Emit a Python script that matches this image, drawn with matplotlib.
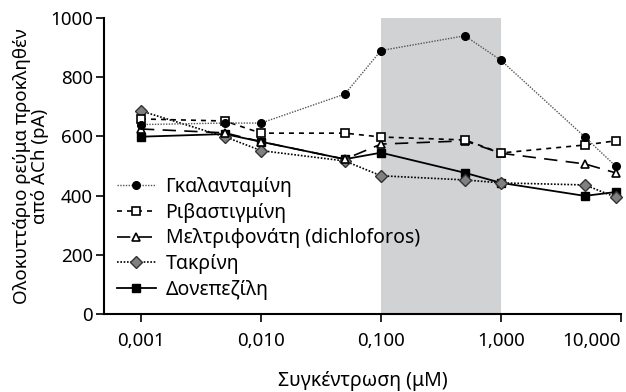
import matplotlib
matplotlib.use("Agg")
import matplotlib.pyplot as plt
from matplotlib.ticker import FixedLocator, NullLocator

plt.rcParams['font.family'] = ['Noto Sans', 'DejaVu Sans']

conc = [0.001, 0.005, 0.01, 0.05, 0.1, 0.5, 1, 5, 9]

galantamine = [640, 645, 645, 743, 890, 940, 857, 598, 500]
rivastigmine = [659, 652, 611, 611, 598, 588, 544, 571, 585]
metrifonate = [625, 612, 582, 523, 574, 585, 543, 507, 477]
tacrine = [686, 599, 552, 517, 467, 453, 443, 436, 395]
donepezil = [599, 608, 582, 523, 545, 477, 443, 399, 412]

xticks = [0.001, 0.01, 0.1, 1, 10]
xticklabels = ["0,001", "0,010", "0,100", "1,000", "10,000"]
yticks = [0, 200, 400, 600, 800, 1000]

fig = plt.figure(figsize=(6.26, 3.92), dpi=100)
ax = fig.add_axes([104/626, 1-314/392, (621-104)/626, (314-18)/392])

ax.axvspan(0.1, 1, color="#d1d2d4", zorder=0, lw=0)

ax.plot(conc, galantamine, label="Γκαλανταμίνη", color="#555555", lw=1,
        linestyle=(0, (1, 1)), marker="o", ms=5.5, mfc="black", mec="black",
        clip_on=False, zorder=6)
ax.plot(conc, rivastigmine, label="Ριβαστιγμίνη", color="black", lw=1.2,
        linestyle=(0, (3, 3)), marker="s", ms=6, mfc="white", mec="black",
        mew=1.2, clip_on=False, zorder=5)
ax.plot(conc, metrifonate, label="Μελτριφονάτη (dichloforos)", color="black", lw=1.2,
        linestyle=(0, (8, 5)), marker="^", ms=6, mfc="white", mec="black",
        mew=1.2, clip_on=False, zorder=4)
ax.plot(conc, tacrine, label="Τακρίνη", color="black", lw=1.2,
        linestyle=(0, (1, 1)), marker="D", ms=6.5, mfc="#808080", mec="#333333",
        mew=1, clip_on=False, zorder=3)
ax.plot(conc, donepezil, label="Δονεπεζίλη", color="black", lw=1.3,
        linestyle="-", marker="s", ms=6, mfc="black", mec="black",
        clip_on=False, zorder=2)

ax.set_xscale("log")
ax.set_xlim(0.000492, 10)
ax.set_ylim(0, 1000)
ax.xaxis.set_major_locator(FixedLocator(xticks))
ax.xaxis.set_minor_locator(NullLocator())
ax.set_xticklabels(xticklabels)
ax.get_xticklabels()[-1].set_horizontalalignment("right")
ax.set_yticks(yticks)

for s in ["top", "right"]:
    ax.spines[s].set_visible(False)
for s in ["left", "bottom"]:
    ax.spines[s].set_linewidth(1.5)
ax.tick_params(axis="both", direction="out", length=6, width=1.2, labelsize=13.5)
ax.tick_params(axis="x", pad=7)
ax.tick_params(axis="y", pad=2)

ax.set_xlabel("Συγκέντρωση (μM)", fontsize=14, labelpad=15)
ax.set_ylabel("Ολοκυττάριο ρεύμα προκληθέν\nαπό ACh (pA)", fontsize=13.5,
              linespacing=1.0, labelpad=1)

ax.legend(loc="upper left", bbox_to_anchor=(0.01, 0.49), frameon=False,
          fontsize=14, handlelength=2.0, handletextpad=0.5,
          labelspacing=0.3, borderaxespad=0)

fig.savefig("out.png", dpi=100)
